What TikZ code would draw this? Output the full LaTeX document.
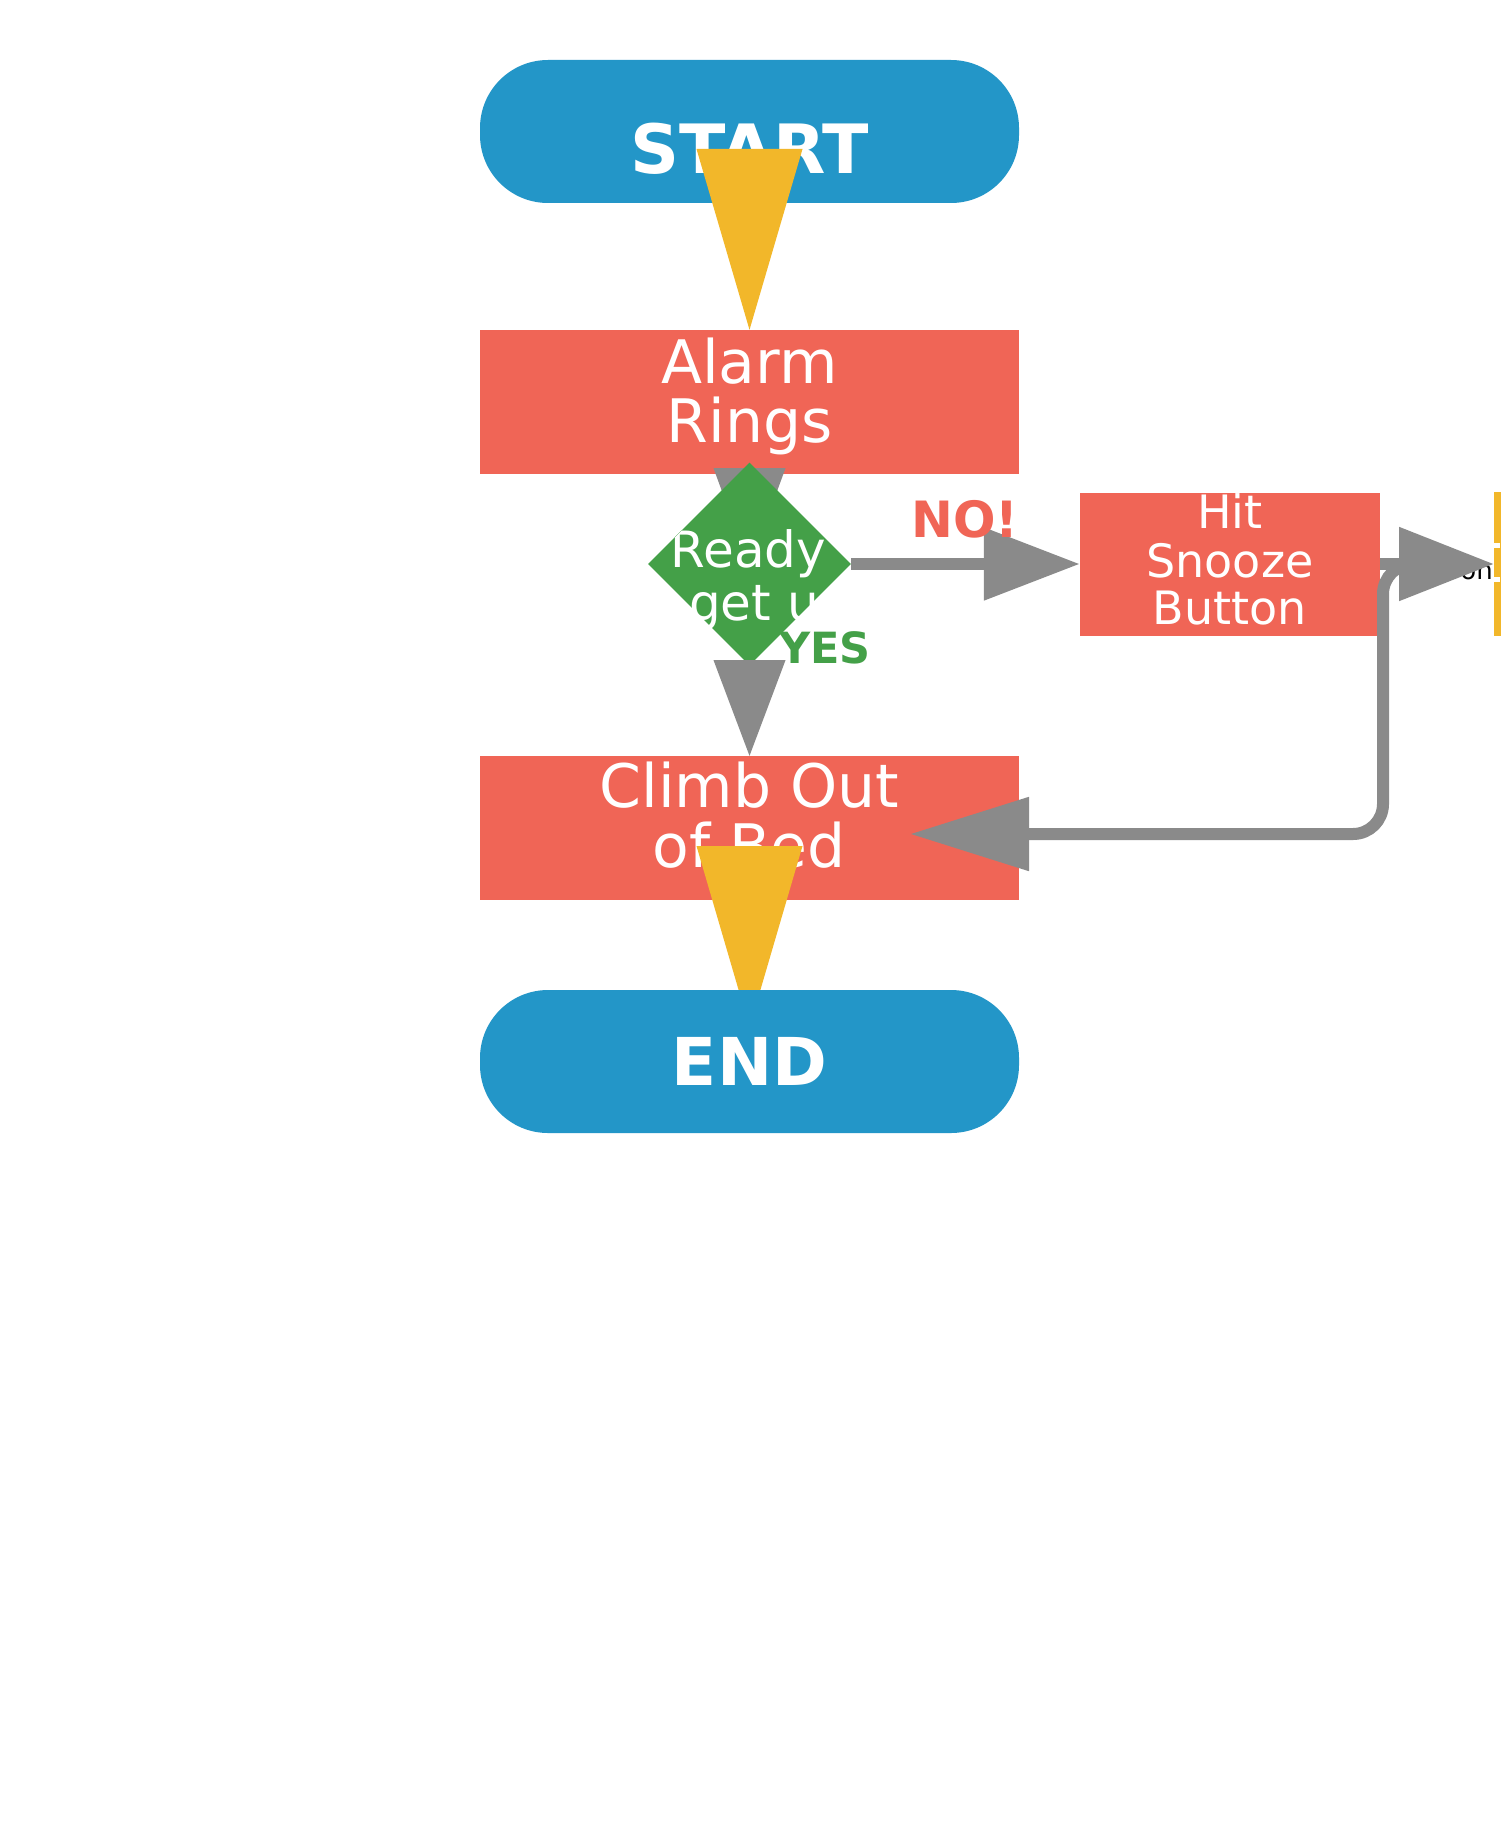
\documentclass[tikz,border=0pt]{standalone}
\usepackage{fontspec}
\setmainfont{DejaVu Sans}
\usetikzlibrary{shapes.geometric,arrows.meta,calc}
\definecolor{cblue}{HTML}{2396C8}
\definecolor{cred}{HTML}{F06556}
\definecolor{cgreen}{HTML}{44A048}
\definecolor{cyel}{HTML}{F2B72A}
\definecolor{cgray}{HTML}{8A8A8A}
\begin{document}
\begin{tikzpicture}[x=1pt,y=-1pt,
  termbox/.style={fill=cblue, rounded corners=68pt, minimum width=539pt, minimum height=143pt, inner sep=0pt},
  procbox/.style={fill=cred, minimum width=539pt, minimum height=144pt, inner sep=0pt},
  wtxt/.style={text=white, inner sep=0pt, anchor=base},
  termfont/.style={font=\fontsize{66}{66}\selectfont\bfseries},
  procfont/.style={font=\fontsize{60}{60}\selectfont},
  smallfont/.style={font=\fontsize{46}{46}\selectfont},
  gline/.style={draw=cgray, line width=12pt},
  ]
\useasboundingbox (0,0) rectangle (1500,1830);
\fill[white] (0,0) rectangle (1500,1830);

% boxes
\node[termbox] (start) at (749.5,131.5) {};
\node[procbox] (alarm) at (749.5,402) {};
\node[procbox] (climb) at (749.5,828) {};
\node[fill=cred, minimum width=300pt, minimum height=143pt, inner sep=0pt] (snooze) at (1230,564) {};
\node[fill=cyel, minimum width=20pt, minimum height=144pt, inner sep=0pt, anchor=west] (nextbox) at (1494,564) {};
\fill[white] (1494,543) rectangle (1500,548);
\fill[white] (1494,577) rectangle (1500,582);

% box texts
\node[wtxt,termfont,font=\fontsize{68}{68}\selectfont\bfseries] (tstart) at (749.5,174) {START};
\node[wtxt,procfont] (talarma) at (749.5,383) {Alarm};
\node[wtxt,procfont] (talarmb) at (749.5,442) {Rings};
\node[wtxt,procfont] (tclimba) at (749.5,807) {Climb Out};
\node[wtxt,procfont] (tclimbb) at (749.5,867) {of Bed};
\node[wtxt,smallfont] (tsa) at (1230,528) {Hit};
\node[wtxt,smallfont] (tsb) at (1230,577) {Snooze};
\node[wtxt,smallfont] (tsc) at (1230,624) {Button};

% alarm -> decision (hidden tip)
\fill[cgray] ([xshift=-36pt,yshift=6pt]alarm.south) -- ([xshift=36pt,yshift=6pt]alarm.south) -- ($(alarm.south)+(0,92)$) -- cycle;

% decision
\node[diamond, aspect=1, fill=cgreen, minimum width=203pt, minimum height=203pt, inner sep=0pt] (dia) at (749.5,564) {};
\begin{scope}
\clip (dia.north) -- (dia.east) -- (dia.south) -- (dia.west) -- cycle;
\node[wtxt, font=\fontsize{50}{50}\selectfont] (tready) at (748.5,567) {Ready};
\node[text=white, inner sep=0pt, anchor=base west, font=\fontsize{50}{50}\selectfont] (tgetup) at (689,620) {get u};
\end{scope}

% yellow connectors
\fill[cyel] ([xshift=-53pt,yshift=-17.5pt]start.center) -- ([xshift=53pt,yshift=-17.5pt]start.center) -- (alarm.north) -- cycle;
\fill[cyel] ([xshift=-53pt,yshift=-18pt]climb.center) -- ([xshift=53pt,yshift=-18pt]climb.center) -- ($(climb.south)+(0,127)$) -- cycle;

% end terminal drawn over the tip
\node[termbox] (end) at (749.5,1061.5) {};
\node[wtxt,termfont] (tend) at (749.5,1085) {END};

% decision -> climb
\fill[cgray] ([xshift=-36pt,yshift=5.5pt]dia.south) -- ([xshift=36pt,yshift=5.5pt]dia.south) -- (climb.north) -- cycle;

% NO branch
\draw[gline, -{Triangle[length=96pt,width=70pt]}] (dia.east) -- (snooze.west);

% loop back
\coordinate (loopa) at (1420,564);
\coordinate (loopb) at (1383,564);
\coordinate (loopc) at (1383,834);
\coordinate (climbin) at (910,834);
\draw[gline, rounded corners=30pt, -{Triangle[length=119pt,width=71pt]}] (loopa) -- (loopb) -- (loopc) -- (climbin);

% partial label and right arrow
\node[inner sep=0pt, anchor=base east, font=\fontsize{26}{26}\selectfont, text=black] (frag) at (1493,579) {on};
\coordinate (edgept) at (1494,564);
\draw[gline, -{Triangle[length=95pt,width=71pt]}] (snooze.east) -- (edgept);

% labels
\node[anchor=base west, inner sep=0pt, text=cred, font=\fontsize{50}{50}\selectfont\bfseries] (lno) at (911,537) {NO!};
\node[anchor=base west, inner sep=0pt, text=cgreen, font=\fontsize{43}{43}\selectfont\bfseries] (lyes) at (779,663) {YES};
\end{tikzpicture}
\end{document}
